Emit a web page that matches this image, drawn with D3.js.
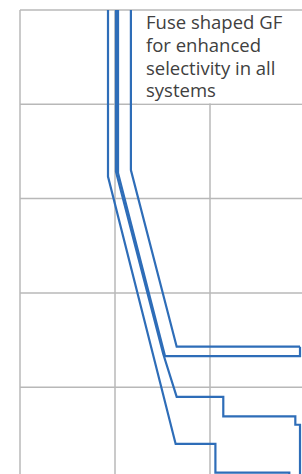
<!DOCTYPE html>
<html>
<head>
<meta charset="utf-8">
<script src="https://cdn.jsdelivr.net/npm/d3@7"></script>
<style>
  html, body { margin: 0; padding: 0; background: #fff; }
  svg { display: block; }
  .grid line { stroke: #b8b8b8; stroke-width: 1.5; }
  .curve { fill: none; stroke: #2e6db8; stroke-width: 2.2; stroke-linejoin: miter; }
  .note { font-family: 'Open Sans', sans-serif; font-size: 18.5px; fill: #404040; }
</style>
</head>
<body>
<svg width="302" height="474"></svg>
<script>
// time-current curves: [current (x In), time (s)]
var curveA = [[8.44, 10000], [8.44, 171], [43.5, 0.25], [114, 0.25], [114, 0.124], [684, 0.124], [684, 0.05]];
var curveB = [[10.76, 10000], [10.76, 187], [33.6, 2.14], [886, 2.14], [886, 2.69]];
var curveC = [[10.24, 10000], [10.24, 193], [32.2, 2.25], [44.6, 0.79], [138, 0.79], [138, 0.49],
              [791, 0.49], [791, 0.40], [886, 0.40], [886, 0.05]];
var curveD = [[14.7, 10000], [14.7, 201], [44.6, 2.69], [886, 2.69]];

var xTicks = [1, 10, 100];
var yTicks = [10000, 1000, 100, 10, 1];
var noteLines = ['Fuse shaped GF', 'for enhanced', 'selectivity in all', 'systems'];

var svg = d3.select('svg');
var width = +svg.attr('width');
var height = +svg.attr('height');

var xScale = d3.scaleLog()
    .domain([1, 1000])
    .range([20, 305]);
var yScale = d3.scaleLog()
    .domain([10000, 0.1])
    .range([10, 481.5]);

// grid
var gridG = svg.append('g').attr('class', 'grid');
gridG.selectAll('.vline')
    .data(xTicks)
    .enter()
    .append('line')
    .attr('class', 'vline')
    .attr('x1', function(d) { return xScale(d); })
    .attr('x2', function(d) { return xScale(d); })
    .attr('y1', yScale(10000))
    .attr('y2', height);
gridG.selectAll('.hline')
    .data(yTicks)
    .enter()
    .append('line')
    .attr('class', 'hline')
    .attr('x1', xScale(1))
    .attr('x2', width)
    .attr('y1', function(d) { return yScale(d); })
    .attr('y2', function(d) { return yScale(d); });

// note box covers the grid in the top cell
svg.append('rect')
    .attr('x', 137)
    .attr('y', yScale(10000) + 1)
    .attr('width', width - 137)
    .attr('height', yScale(1000) - yScale(10000) - 2)
    .attr('fill', '#fff');

var line = d3.line()
    .x(function(d) { return xScale(d[0]); })
    .y(function(d) { return yScale(d[1]); });

svg.selectAll('.curve')
    .data([curveA, curveB, curveC, curveD])
    .enter()
    .append('path')
    .attr('class', 'curve')
    .attr('d', line);

svg.selectAll('.note')
    .data(noteLines)
    .enter()
    .append('text')
    .attr('class', 'note')
    .attr('x', 146)
    .attr('y', function(d, i) { return 29 + i * 22.8; })
    .text(function(d) { return d; });
</script>
</body>
</html>
